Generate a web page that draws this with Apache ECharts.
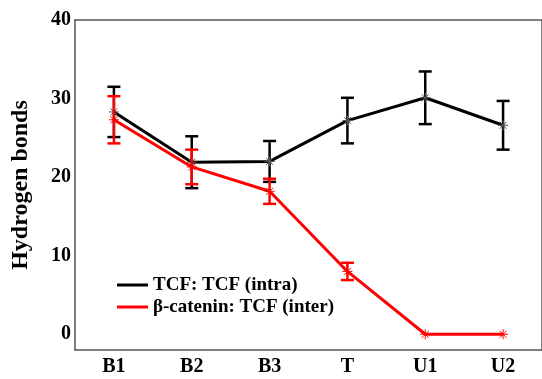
<!DOCTYPE html>
<html>
<head>
<meta charset="utf-8">
<script src="https://cdn.jsdelivr.net/npm/echarts@6/dist/echarts.min.js"></script>
<style>
  html, body { margin: 0; padding: 0; background: #fff; }
  #chart { width: 542px; height: 379px; }
</style>
</head>
<body>
<div id="chart"></div>
<script>
// --- data ---
const categories = ['B1', 'B2', 'B3', 'T', 'U1', 'U2'];
const intraMean = [28.3, 21.9, 22.0, 27.2, 30.1, 26.6];
const intraErr  = [3.2, 3.3, 2.6, 2.9, 3.35, 3.1];
const interMean = [27.3, 21.3, 18.2, 8.0, 0, 0];
const interErr  = [3.0, 2.2, 1.6, 1.1, 0, 0];
const yTicks = [0, 10, 20, 30, 40];
const yMinorTicks = [0, 5, 10, 15, 20, 25, 30, 35, 40];

const FONT = '"Liberation Serif", "Times New Roman", serif';
const axisColor = '#555';
const star = 'path://M0,5L10,5M5,0L5,10M1.5,1.5L8.5,8.5M8.5,1.5L1.5,8.5';

// error bars drawn as a custom series
function errorSeries(mean, err, color) {
    const data = mean.map((m, i) => [i, m - err[i], m + err[i]]);
    return {
        type: 'custom',
        z: color === '#000' ? 2 : 4,
        data: data,
        renderItem: function (params, api) {
            if (api.value(2) - api.value(1) <= 0) return null;
            const lo = api.coord([api.value(0), api.value(1)]);
            const hi = api.coord([api.value(0), api.value(2)]);
            const w = 6.5;
            const style = { stroke: color, lineWidth: 2.5 };
            return {
                type: 'group',
                children: [
                    { type: 'line', shape: { x1: hi[0], y1: hi[1], x2: lo[0], y2: lo[1] }, style: style },
                    { type: 'line', shape: { x1: hi[0] - w, y1: hi[1], x2: hi[0] + w, y2: hi[1] }, style: style },
                    { type: 'line', shape: { x1: lo[0] - w, y1: lo[1], x2: lo[0] + w, y2: lo[1] }, style: style }
                ]
            };
        }
    };
}

const chart = echarts.init(document.getElementById('chart'));
chart.setOption({
    animation: false,
    grid: { left: 75, top: 20, right: -3, bottom: 29 },
    legend: {
        orient: 'vertical', left: 112, top: 270,
        itemWidth: 31, itemHeight: 3, itemGap: 2,
        icon: 'rect',
        itemStyle: { borderWidth: 0 },
        textStyle: { fontFamily: FONT, fontWeight: 'bold', fontSize: 19, color: '#000', lineHeight: 20 },
        data: ['TCF: TCF (intra)', 'β-catenin: TCF (inter)']
    },
    xAxis: [{
        type: 'category', data: categories, boundaryGap: true,
        axisLine: { onZero: false, lineStyle: { color: axisColor, width: 1.5 } },
        axisTick: { alignWithLabel: true, inside: true, length: 8, lineStyle: { color: axisColor, width: 1.5 } },
        axisLabel: { fontFamily: FONT, fontWeight: 'bold', fontSize: 20, color: '#000', margin: 7 },
        splitLine: { show: false }
    }, {
        type: 'category', data: categories, boundaryGap: true, position: 'top',
        axisLine: { onZero: false, lineStyle: { color: axisColor, width: 1.5 } },
        axisTick: { alignWithLabel: true, inside: true, length: 8, lineStyle: { color: axisColor, width: 1.5 } },
        axisLabel: { show: false },
        splitLine: { show: false }
    }],
    yAxis: [{
        type: 'value', min: -2, max: 40,
        name: 'Hydrogen bonds', nameLocation: 'middle', nameGap: 42,
        nameTextStyle: { fontFamily: FONT, fontWeight: 'bold', fontSize: 24, color: '#000' },
        axisLine: { show: true, onZero: false, lineStyle: { color: axisColor, width: 1.5 } },
        axisTick: { inside: true, length: 7, customValues: yMinorTicks, lineStyle: { color: axisColor, width: 1.5 } },
        axisLabel: { customValues: yTicks, fontFamily: FONT, fontWeight: 'bold', fontSize: 20, color: '#000', margin: 4 },
        splitLine: { show: false }
    }, {
        type: 'value', min: -2, max: 40, position: 'right',
        axisLine: { show: true, onZero: false, lineStyle: { color: axisColor, width: 1.5 } },
        axisTick: { inside: true, length: 7, customValues: yMinorTicks, lineStyle: { color: axisColor, width: 1.5 } },
        axisLabel: { show: false },
        splitLine: { show: false }
    }],
    series: [
        errorSeries(intraMean, intraErr, '#000'),
        {
            name: 'TCF: TCF (intra)', type: 'line', data: intraMean, z: 3,
            symbol: star, symbolSize: 10,
            lineStyle: { color: '#000', width: 3 },
            itemStyle: { color: '#000', borderColor: '#555', borderWidth: 1 }
        },
        errorSeries(interMean, interErr, '#f00'),
        {
            name: 'β-catenin: TCF (inter)', type: 'line', data: interMean, z: 5,
            symbol: star, symbolSize: 10,
            lineStyle: { color: '#f00', width: 3 },
            itemStyle: { color: '#f00', borderColor: '#f00', borderWidth: 1 }
        }
    ]
});
</script>
</body>
</html>
